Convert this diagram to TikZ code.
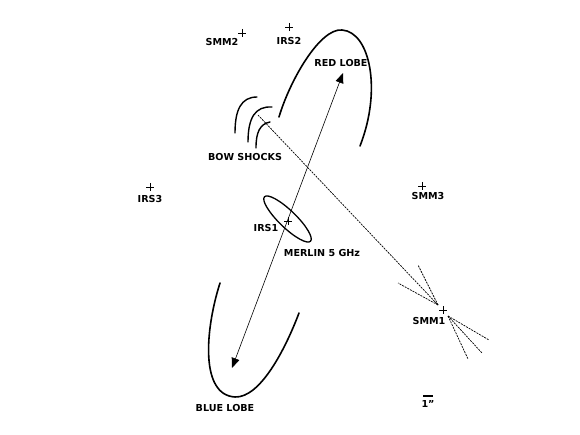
\documentclass[tikz,border=0pt]{standalone}
\usepackage{fontspec}
\setmainfont{DejaVu Sans}
\usetikzlibrary{arrows.meta}
\begin{document}
\begin{tikzpicture}[x=1pt,y=-1pt,
  lbl/.style={font=\fontsize{9.6}{10}\selectfont\bfseries, inner sep=0pt},
  lobe/.style={line width=1.6pt, line cap=round},
  shock/.style={line width=1.4pt, line cap=round},
  jet/.style={line width=0.6pt, {Triangle[length=10pt,width=8pt]}-{Triangle[length=10pt,width=8pt]}},
  flow/.style={line width=0.7pt, dash pattern=on 2pt off 1pt},
  ray/.style={line width=0.7pt, dash pattern=on 2pt off 1pt},
  plusmark/.style={line width=0.7pt}]
\useasboundingbox (0,0) rectangle (580,435);
\fill[white] (0,0) rectangle (580,435);

% source positions
\coordinate (smm2) at (242,33);
\coordinate (irs2) at (289,27);
\coordinate (irs3) at (150,187);
\coordinate (irs1) at (288,221);
\coordinate (smm3) at (422,186);
\coordinate (smm1) at (443,310);
\foreach \p in {smm2,irs2,irs3,irs1,smm3,smm1}{
  \draw[plusmark] (\p) +(-4,0) -- +(4,0) (\p) +(0,-4) -- +(0,4);
}

% labels
\node[lbl] (lsmm2) at (222,42) {SMM2};
\node[lbl] (lirs2) at (289,41) {IRS2};
\node[lbl] (lred) at (341,63) {RED LOBE};
\node[lbl] (lbow) at (245,157) {BOW SHOCKS};
\node[lbl] (lirs3) at (150,199) {IRS3};
\node[lbl] (lirs1) at (266,228) {IRS1};
\node[lbl] (lmerlin) at (322,253) {MERLIN 5 GHz};
\node[lbl] (lsmm3) at (428,196) {SMM3};
\node[lbl] (lsmm1) at (429,321) {SMM1};
\node[lbl] (lblue) at (225,408) {BLUE LOBE};
\node[lbl] (lscale) at (428,404) {1\symbol{34}};
\draw[line width=1.8pt] (423,396) -- (433,396);

% red lobe
\draw[lobe] (279,117) .. controls (290,80) and (320,28) .. (342,30)
  .. controls (370,32) and (382,90) .. (360,146);
% blue lobe
\draw[lobe] (220,283) .. controls (205,330) and (200,395) .. (235,397)
  .. controls (260,398) and (285,350) .. (299,313);

% bow shocks
\draw[shock] (257,97) .. controls (241,97) and (235,110) .. (235,133);
\draw[shock] (272,107) .. controls (255,106) and (248,118) .. (248,142);
\draw[shock] (270,122) .. controls (260,124) and (256,132) .. (256,148);

% MERLIN ellipse
\draw[line width=1.3pt, rotate around={-44:(287.5,219)}] (287.5,219) ellipse [x radius=32pt, y radius=8.5pt];

% jet axis
\coordinate (bluetip) at (232,368);
\coordinate (redtip) at (343,73);
\draw[jet] (bluetip) -- (redtip);

% flow from bow shocks to SMM1
\coordinate (bsstart) at (258,115);
\coordinate (conv) at (438,305);
\draw[flow] (bsstart) -- (conv);

% SMM1 outflow rays
\coordinate (ru1) at (418,265);
\coordinate (ru2) at (398,283);
\coordinate (lowstart) at (448,316);
\coordinate (rl1) at (489,340);
\coordinate (rl2) at (482,353);
\coordinate (rl3) at (468,359);
\draw[ray] (conv) -- (ru1);
\draw[ray] (conv) -- (ru2);
\draw[ray] (lowstart) -- (rl1);
\draw[ray] (lowstart) -- (rl2);
\draw[ray] (lowstart) -- (rl3);
\end{tikzpicture}
\end{document}
